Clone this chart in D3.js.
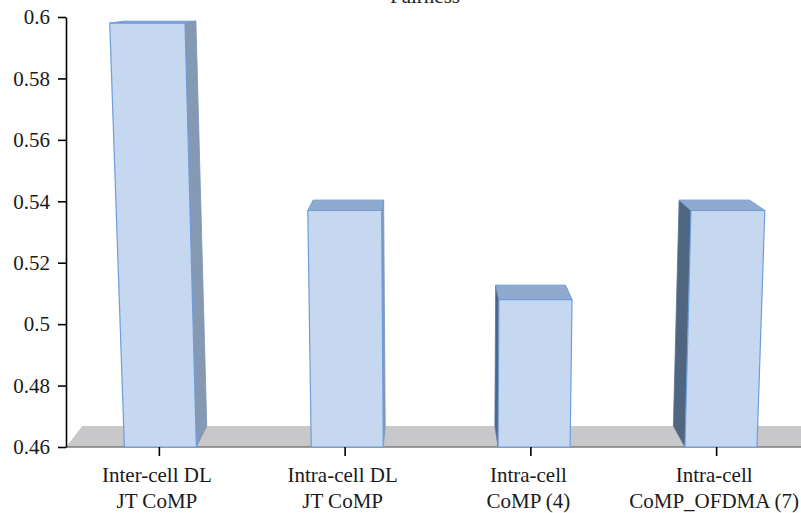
<!DOCTYPE html>
<html>
<head>
<meta charset="utf-8">
<script src="https://cdn.jsdelivr.net/npm/d3@7"></script>
<style>
  html, body { margin: 0; padding: 0; background: #fff; }
  svg { display: block; font-family: "Liberation Serif", "DejaVu Serif", serif; }
</style>
</head>
<body>
<svg id="chart" width="801" height="513"></svg>
<script>
// Fairness of the four CoMP schemes
const categories = ["Inter-cell DL JT CoMP", "Intra-cell DL JT CoMP", "Intra-cell CoMP (4)", "Intra-cell CoMP_OFDMA (7)"];
const categoryLines = [["Inter-cell DL", "JT CoMP"], ["Intra-cell DL", "JT CoMP"], ["Intra-cell", "CoMP (4)"], ["Intra-cell", "CoMP_OFDMA (7)"]];
const fairness = [0.598, 0.537, 0.508, 0.537];
const yTicks = [0.46, 0.48, 0.5, 0.52, 0.54, 0.56, 0.58, 0.6];
const yTickLabels = ["0.46", "0.48", "0.5", "0.52", "0.54", "0.56", "0.58", "0.6"];
const title = "Fairness";

const svg = d3.select("#chart");

const y = d3.scaleLinear().domain([0.46, 0.6]).range([447, 17]);
const x = d3.scalePoint().domain(categories).range([66, 809]).padding(0.5);

const baseY = y(0.46);
const halfW = 36;

// 3-D look: depth recedes toward a vanishing point, verticals converge slightly
const VP = [427, -20];
const depth = 0.045;
const vertVPx = 447;
const vertK = 1.07e-4;
const lean = (px, h) => px + (px - vertVPx) * h * vertK;
const back = p => [p[0] + (VP[0] - p[0]) * depth, p[1] + (VP[1] - p[1]) * depth];
const poly = pts => "M" + pts.map(p => p.join(",")).join("L") + "Z";
// bars drift a little to the right of their ticks in the projected view
const barCenter = c => x(c) + 1.5 + (x(c) - x(categories[0])) * 0.006;

// title (sits at the very top edge)
svg.append("text")
  .attr("x", 425).attr("y", 3)
  .attr("text-anchor", "middle")
  .attr("font-size", 21)
  .attr("fill", "#222")
  .text(title);

// floor
const f0 = [66, baseY], f1 = [830, baseY];
svg.append("path")
  .attr("d", poly([f0, f1, back(f1), back(f0)]))
  .attr("fill", "#c8c8cb");
svg.append("line")
  .attr("x1", 66).attr("x2", 801)
  .attr("y1", baseY).attr("y2", baseY)
  .attr("stroke", "#7d7d7d").attr("stroke-width", 1.5);

// bars
const bars = svg.append("g");
categories.forEach((c, i) => {
  const cx = barCenter(c);
  const yT = y(fairness[i]);
  const h = baseY - yT;
  const bl = [cx - halfW, baseY], br = [cx + halfW, baseY];
  const tl = [lean(cx - halfW, h), yT], tr = [lean(cx + halfW, h), yT];
  const g = bars.append("g");
  if (cx < VP[0]) {
    g.append("path").attr("d", poly([br, tr, back(tr), back(br)]))
      .attr("fill", "#8699b3").attr("stroke", "#7c93b6").attr("stroke-width", 0.8);
  } else {
    g.append("path").attr("d", poly([bl, tl, back(tl), back(bl)]))
      .attr("fill", "#50657f").attr("stroke", "#5a7396").attr("stroke-width", 0.8);
  }
  g.append("path").attr("d", poly([tl, tr, back(tr), back(tl)]))
    .attr("fill", "#8fa9cf").attr("stroke", "#6f9bd6").attr("stroke-width", 1);
  g.append("path").attr("d", poly([bl, br, tr, tl]))
    .attr("fill", "#c6d8f0").attr("stroke", "#6d9ddc").attr("stroke-width", 1.2);
});

// y axis
const yAxis = svg.append("g")
  .attr("transform", "translate(66,0)")
  .call(d3.axisLeft(y).tickValues(yTicks)
    .tickFormat((d, i) => yTickLabels[i])
    .tickSize(8).tickSizeOuter(0).tickPadding(8));
yAxis.select(".domain").attr("stroke", "#000").attr("stroke-width", 1.6);
yAxis.selectAll(".tick line").attr("stroke", "#000").attr("stroke-width", 1.6);
yAxis.selectAll(".tick text")
  .attr("font-family", "Liberation Serif, serif")
  .attr("font-size", 21).attr("fill", "#1a1a1a");

// x axis ticks and two-line labels
const xAxis = svg.append("g")
  .attr("transform", `translate(0,${baseY})`)
  .call(d3.axisBottom(x).tickSize(9).tickSizeOuter(0).tickFormat(""));
xAxis.select(".domain").remove();
xAxis.selectAll(".tick line").attr("stroke", "#000").attr("stroke-width", 1.6);

const labels = svg.append("g")
  .attr("font-size", 21).attr("fill", "#1a1a1a").attr("text-anchor", "middle");
categories.forEach((c, i) => {
  const t = labels.append("text").attr("x", x(c) - 2).attr("y", 482);
  categoryLines[i].forEach((line, j) => {
    t.append("tspan").attr("x", x(c) - 2).attr("dy", j === 0 ? 0 : 26).text(line);
  });
});
</script>
</body>
</html>
